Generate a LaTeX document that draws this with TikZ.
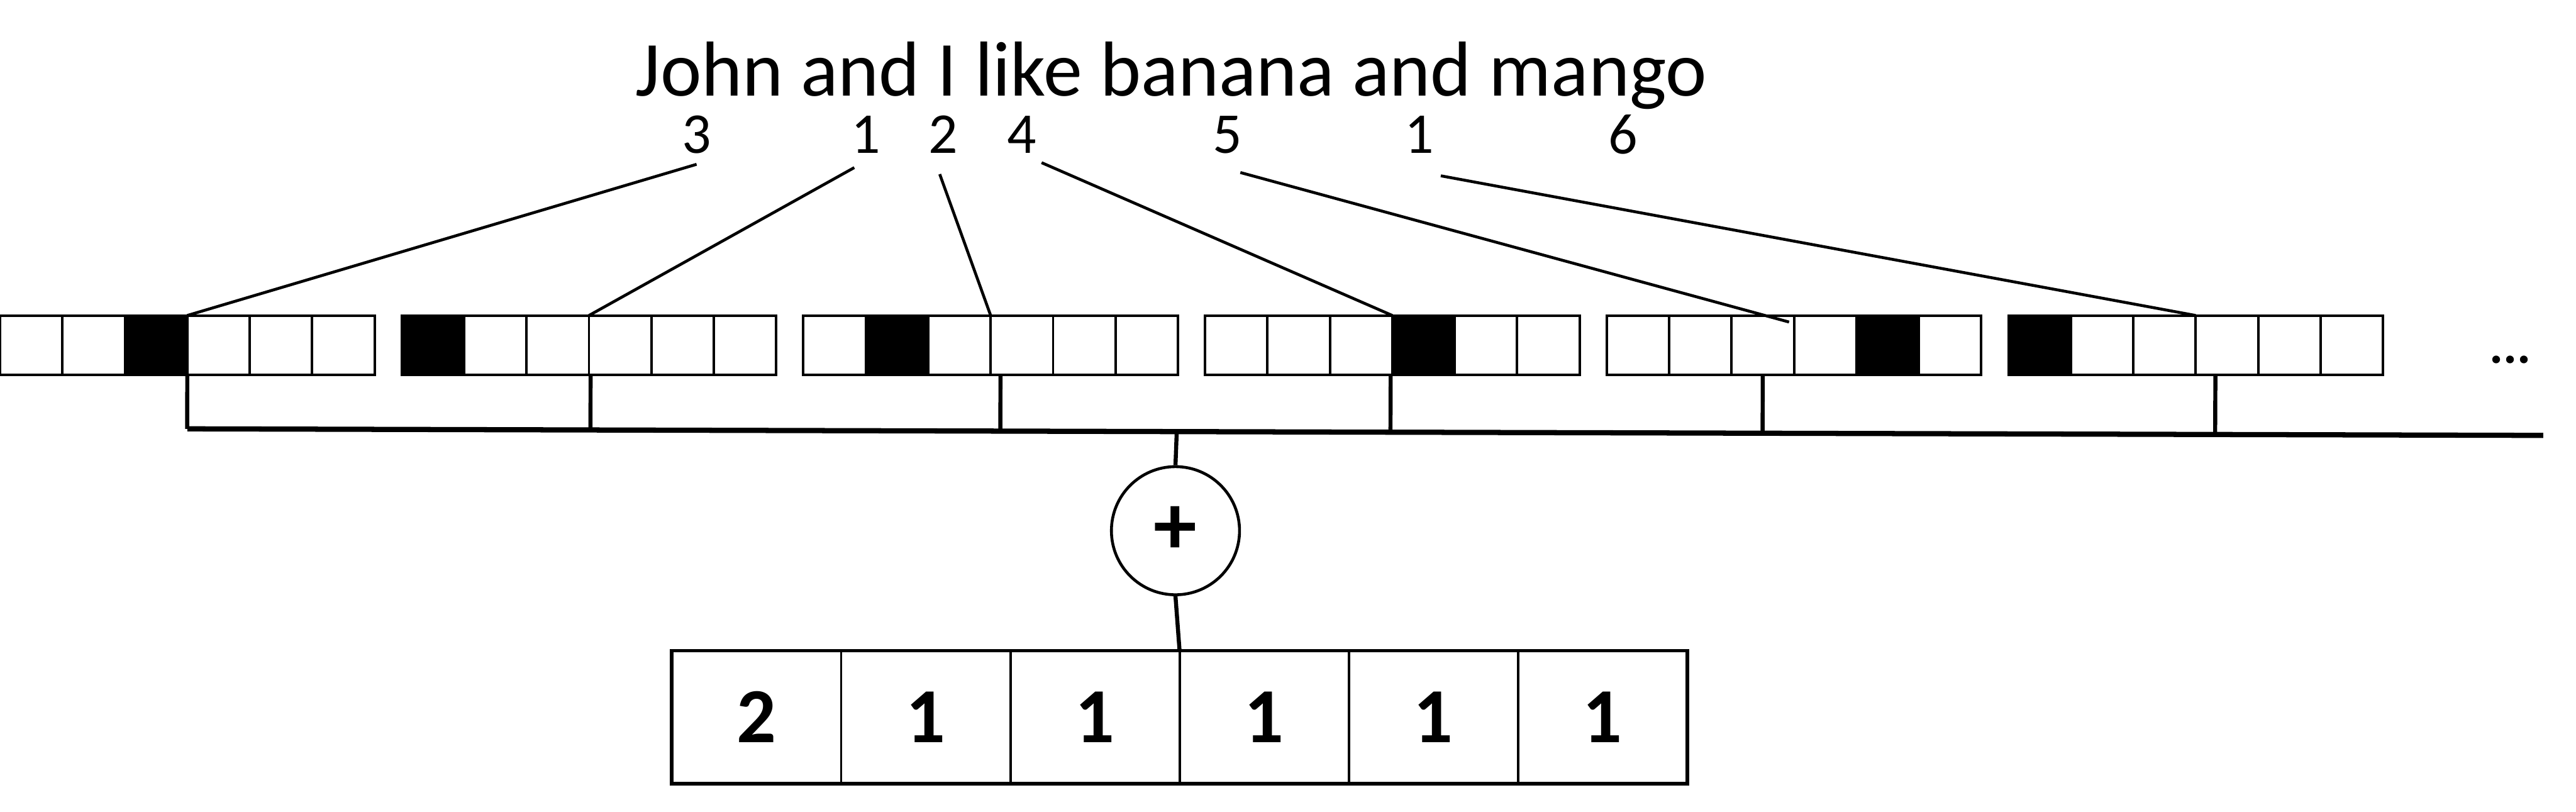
\documentclass[tikz,border=0pt]{standalone}
\usepackage{fontspec}
\setmainfont{Carlito}
\usetikzlibrary{calc, positioning}
\tikzset{
	cellnode/.style={
			rectangle,
			draw=black,
			line width=0.85pt,
			minimum width=0.76cm,
			minimum height=0.72cm,
			inner sep=0pt,
			outer sep=0pt
		},
	resultnode/.style={
			cellnode,
			minimum width=2.06cm,
			minimum height=1.62cm,
			font=\fontsize{27}{32}\selectfont\bfseries
		},
	sumnode/.style={
			circle,
			draw=black,
			line width=1pt,
			fill=white,
			minimum size=1.56cm,
			inner sep=0pt,
			font=\fontsize{30}{36}\selectfont\bfseries
		},
	wordnode/.style={
			inner sep=0pt,
			font=\fontsize{27}{32}\selectfont
		},
	numnode/.style={
			inner sep=0pt,
			font=\fontsize{20}{24}\selectfont
		},
	linkline/.style={line width=1pt},
	dropline/.style={line width=1.4pt},
	busline/.style={line width=1.8pt}
}
\begin{document}
\begin{tikzpicture}[x=0.02cm, y=0.02cm]
\useasboundingbox (0,0) rectangle (1568,-494);

\node[wordnode] (sentence) at (713,-46) {John and I like banana and mango};
\node[numnode] (num1) at (424,-82) {3};
\node[numnode] (num2) at (527,-82) {1};
\node[numnode] (num3) at (574,-82) {2};
\node[numnode] (num4) at (622,-82) {4};
\node[numnode] (num5) at (747,-82) {5};
\node[numnode] (num6) at (864,-82) {1};
\node[numnode] (num7) at (988,-82) {6};

\foreach \g/\k in {1/3,2/1,3/2,4/4,5/5,6/1}{
	\foreach \c in {1,...,6}{
		\ifnum\c=\k\relax\def\boxcolor{black}\else\def\boxcolor{white}\fi
		\node[cellnode, fill=\boxcolor] (b\g-\c) at ({(\g-1)*244.5+(\c-0.5)*38},-210) {};
	}
}
\node[font=\fontsize{18}{22}\selectfont\bfseries, inner sep=0pt] (more) at (1528,-219) {...};

\coordinate (s1) at (424,-100);
\coordinate (s2) at (520,-102);
\coordinate (s3) at (572,-106);
\coordinate (s4) at (634,-99);
\coordinate (s5) at (755,-105);
\coordinate (s6) at (877,-107);

\draw[linkline] (s1) -- (b1-3.north east);
\draw[linkline] (s2) -- (b2-3.north east);
\draw[linkline] (s3) -- (b3-3.north east);
\draw[linkline] (s4) -- (b4-3.north east);
\draw[linkline] (s5) -- ($(b5-3.north east)+(-3,-4)$);
\draw[linkline] (s6) -- (b6-3.north east);

\coordinate (busw) at ($(b1-3.south east)+(0,-33)$);
\coordinate (buse) at (1548,-265);
\foreach \g/\dx in {1/0,2/1,3/6,4/-1,5/-19,6/12}{
	\coordinate (d\g) at ([xshift=\dx*0.02cm]b\g-3.south east);
	\draw[dropline] (d\g) -- ($(busw)!(d\g)!(buse)$);
}
\draw[busline] (busw) -- (buse);
\coordinate (busmid) at ($(busw)!0.42!(buse)$);

\node[sumnode] (plus) at (715.5,-323) {+};

\foreach \i/\v in {1/2,2/1,3/1,4/1,5/1,6/1}{
	\node[resultnode] (r\i) at ({409+(\i-0.5)*103},-436.5) {\v};
}
\draw[line width=1.3pt] (r1.north west) rectangle (r6.south east);

\draw[dropline] (busmid) -- (plus.north);
\draw[dropline] (plus.south) -- (r3.north east);

\end{tikzpicture}
\end{document}
